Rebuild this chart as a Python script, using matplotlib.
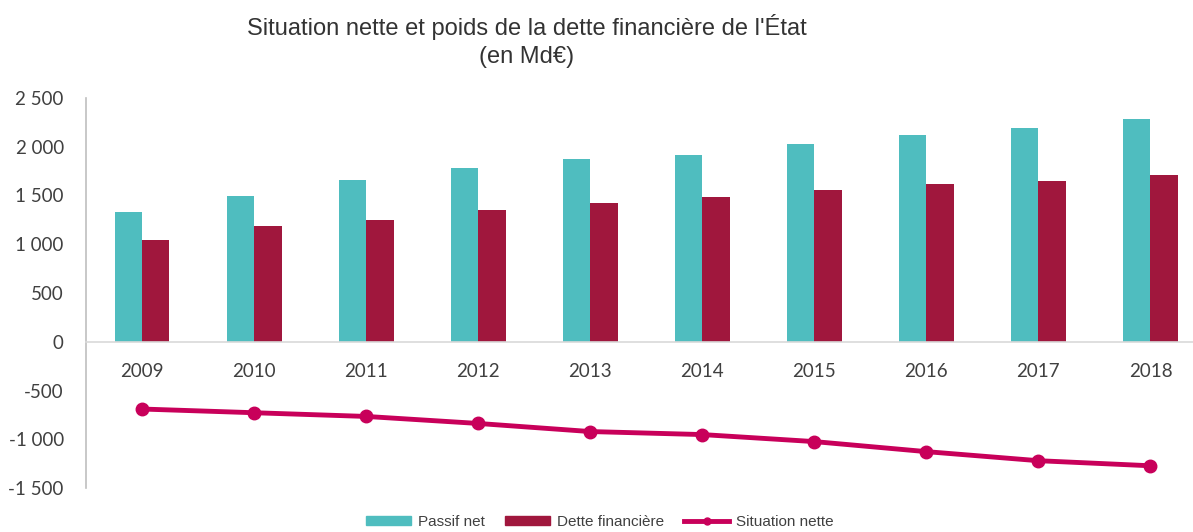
import numpy as np
import matplotlib.pyplot as plt
from matplotlib.lines import Line2D
from matplotlib.patches import Patch

# Données (Md€)
annees = ['2009', '2010', '2011', '2012', '2013', '2014', '2015', '2016', '2017', '2018']
passif_net = [1327, 1496, 1664, 1781, 1874, 1915, 2025, 2118, 2190, 2287]
dette_fin = [1046, 1183, 1252, 1348, 1420, 1482, 1554, 1613, 1650, 1706]
situation_nette = [-690, -728, -766, -838, -921, -952, -1024, -1127, -1220, -1272]
yticks = [-1500, -1000, -500, 0, 500, 1000, 1500, 2000, 2500]

c_passif = '#4FBDBF'
c_dette = '#A0173D'
c_sit = '#C8005A'
txt = '#404040'

plt.rcParams['font.family'] = ['Lato', 'DejaVu Sans']

fig = plt.figure(figsize=(11.93, 5.32), dpi=100)
ax = fig.add_axes([86 / 1193, 1 - 488 / 532, 1 - 86 / 1193, 390 / 532])

x = np.arange(len(annees))
w = 0.245
ax.bar(x - w / 2, passif_net, w, color=c_passif, zorder=2)
ax.bar(x + w / 2, dette_fin, w, color=c_dette, zorder=2)
ax.plot(x, situation_nette, color=c_sit, lw=3.5, marker='o', ms=9, zorder=3)

ax.set_xlim(-0.5, 9.38)
ax.set_ylim(-1500, 2500)
ax.set_yticks(yticks)
ax.set_yticklabels([f'{v:,}'.replace(',', ' ') for v in yticks], fontsize=13.5, color=txt)
ax.tick_params(axis='y', length=0, pad=16)

ax.spines['bottom'].set_position(('data', 0))
ax.spines['bottom'].set_color('#D9D9D9')
ax.spines['bottom'].set_linewidth(1.2)
ax.spines['left'].set_color('#BFBFBF')
ax.spines['left'].set_linewidth(1.2)
ax.spines['top'].set_visible(False)
ax.spines['right'].set_visible(False)
ax.set_xticks(x)
ax.set_xticklabels(annees, fontsize=13.5, color=txt)
ax.tick_params(axis='x', length=0, pad=15)

titre_font = ['Liberation Sans Narrow', 'Liberation Sans', 'DejaVu Sans']
fig.text(527 / 1193, 1 - 27 / 532, "Situation nette et poids de la dette financière de l'État",
         ha='center', va='center', fontsize=17, color='#333333', family=titre_font)
fig.text(527 / 1193, 1 - 57 / 532, "(en Md€)",
         ha='center', va='center', fontsize=17, color='#333333', family=titre_font)

handles = [Patch(color=c_passif), Patch(color=c_dette),
           Line2D([], [], color=c_sit, lw=3.5, marker='o', ms=5)]
leg = fig.legend(handles, ['Passif net', 'Dette financière', 'Situation nette'],
                 loc='center', bbox_to_anchor=(600 / 1193, 1 - 522 / 532), ncol=3,
                 frameon=False, handlelength=2.95, handleheight=0.5,
                 columnspacing=1.3, handletextpad=0.45,
                 prop={'family': ['Liberation Sans', 'DejaVu Sans'], 'size': 11})
for t in leg.get_texts():
    t.set_color(txt)

fig.savefig('out.png', dpi=100)
